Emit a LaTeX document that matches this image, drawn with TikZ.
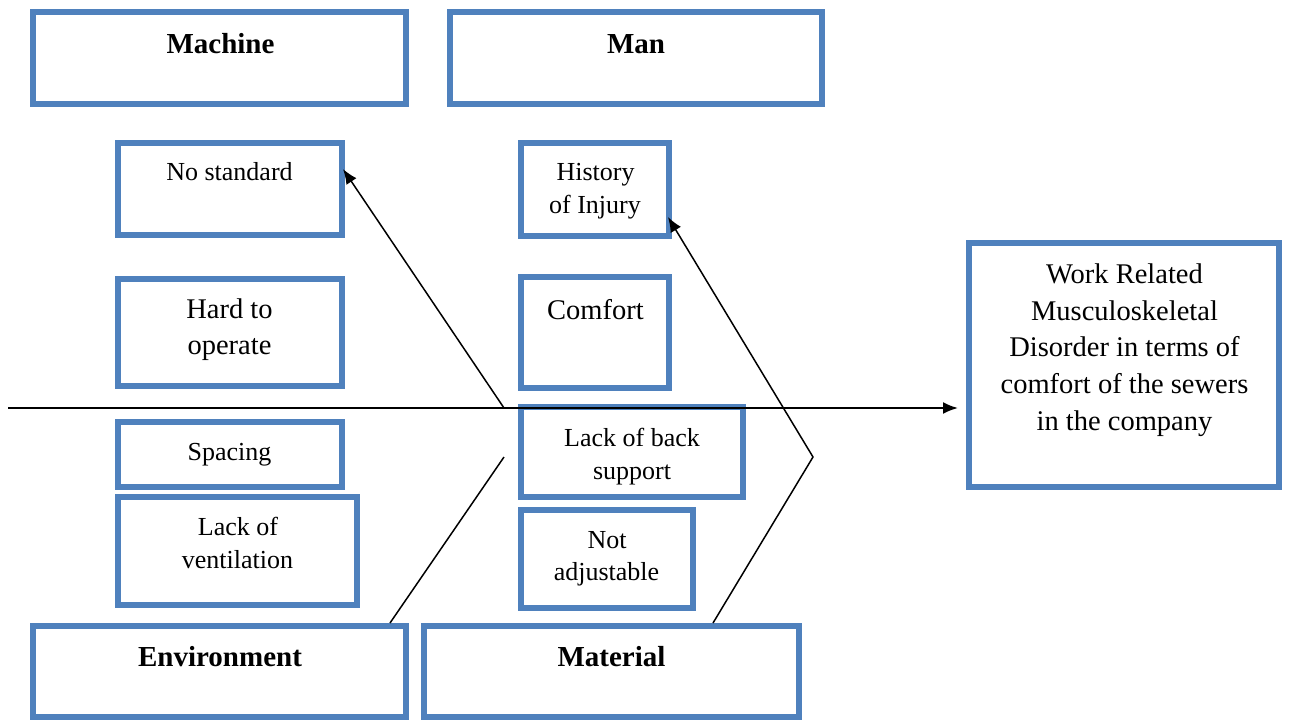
\documentclass[tikz,border=0pt]{standalone}
\usepackage{fontspec}
\setmainfont{Liberation Serif}
\usetikzlibrary{arrows.meta,calc}
\definecolor{boxblue}{HTML}{4F81BD}
\begin{document}
\begin{tikzpicture}[x=1pt,y=-1pt,
  box/.style={draw=boxblue,line width=6pt,rectangle,inner sep=0pt,outer sep=0pt},
  big/.style={anchor=base,inner sep=0pt,font=\fontsize{28.5}{34}\selectfont},
  small/.style={anchor=base,inner sep=0pt,font=\fontsize{26}{32}\selectfont},
  head/.style={anchor=base,inner sep=0pt,font=\fontsize{29}{35}\selectfont\bfseries},
  conn/.style={line width=1.5pt,-{Latex[length=15pt,width=12pt]}},
  bone/.style={line width=1.5pt}]
\useasboundingbox (0,0) rectangle (1290,724);

% boxes
\node[box,minimum width=373pt,minimum height=92pt] (machine) at (219.5,58) {};
\node[box,minimum width=372pt,minimum height=92pt] (man) at (636,58) {};
\node[box,minimum width=224pt,minimum height=92pt] (nostd) at (230,189) {};
\node[box,minimum width=224pt,minimum height=107pt] (hard) at (230,332.5) {};
\node[box,minimum width=224pt,minimum height=65pt] (spacing) at (230,454.5) {};
\node[box,minimum width=239pt,minimum height=108pt] (vent) at (237.5,551) {};
\node[box,minimum width=148pt,minimum height=93pt] (history) at (595,189.5) {};
\node[box,minimum width=148pt,minimum height=111pt] (comfort) at (595,332.5) {};
\node[box,minimum width=222pt,minimum height=90pt] (back) at (632,452) {};
\node[box,minimum width=172pt,minimum height=98pt] (notadj) at (607,559) {};
\node[box,minimum width=373pt,minimum height=91pt] (environment) at (219.5,671.5) {};
\node[box,minimum width=375pt,minimum height=91pt] (material) at (611.5,671.5) {};
\node[box,minimum width=310pt,minimum height=244pt] (target) at (1124,365) {};

% texts
\node[head] (machine-t) at (220.5,53) {Machine};
\node[head] (man-t) at (636,53) {Man};
\node[small] (nostd-t) at (229.5,180) {No standard};
\node[big] (hard-t1) at (229.5,318) {Hard to};
\node[big] (hard-t2) at (229.5,354) {operate};
\node[small] (spacing-t) at (229.5,460) {Spacing};
\node[small] (vent-t1) at (238,535) {Lack of};
\node[small] (vent-t2) at (237.5,568) {ventilation};
\node[small] (history-t1) at (595.5,180) {History};
\node[small] (history-t2) at (595,213) {of Injury};
\node[big] (comfort-t) at (595.5,319) {Comfort};
\node[small] (back-t1) at (632,446) {Lack of back};
\node[small] (back-t2) at (632,479) {support};
\node[small] (notadj-t1) at (607,548) {Not};
\node[small] (notadj-t2) at (606.5,580) {adjustable};
\node[head] (environment-t) at (220,666) {Environment};
\node[head] (material-t) at (611.5,666) {Material};
\node[big] (target-t1) at (1124.5,283) {Work Related};
\node[big] (target-t2) at (1124.5,320) {Musculoskeletal};
\node[big] (target-t3) at (1124.5,356) {Disorder in terms of};
\node[big] (target-t4) at (1124.5,393) {comfort of the sewers};
\node[big] (target-t5) at (1124.5,430) {in the company};

% connectors
\coordinate (spine-start) at (8,408);
\coordinate (b1) at (504,408);
\coordinate (b2a) at (713,623);
\coordinate (b2b) at (813,457);
\coordinate (b3a) at (390,623);
\coordinate (b3b) at (504,457);

\draw[conn,line width=2pt] (spine-start) -- ($(target.west |- spine-start)+(-11,0)$);
\draw[conn] (b1) -- ($(nostd.east)+(1,-20)$);
\draw[conn] (b2a) -- (b2b) -- ($(history.east)+(-1,27.5)$);
\draw[bone] (b3a) -- (b3b);
\end{tikzpicture}
\end{document}
